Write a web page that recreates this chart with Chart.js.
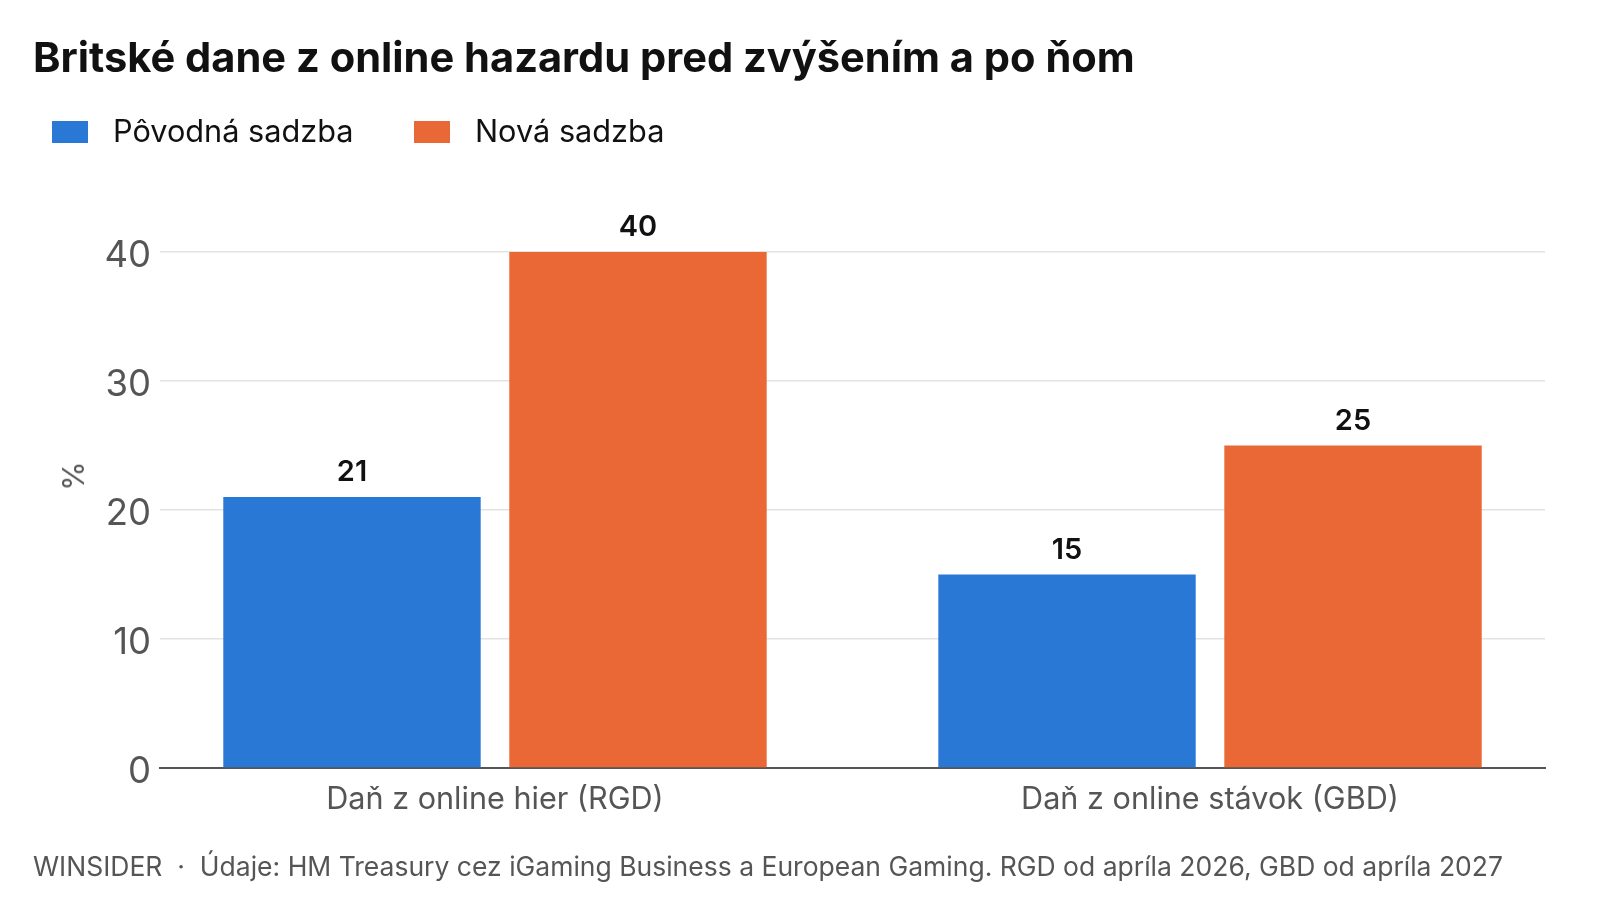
<!DOCTYPE html>
<html>
<head>
<meta charset="utf-8">
<script src="https://cdn.jsdelivr.net/npm/chart.js@4/dist/chart.umd.min.js"></script>
<style>
html,body{margin:0;padding:0;background:#fff;}
#wrap{position:relative;width:1600px;height:900px;font-family:Inter,"Noto Sans",sans-serif;overflow:hidden;}
#chart{position:absolute;left:0;top:0;}
.t{position:absolute;line-height:1;white-space:pre;}
#title{left:33px;top:37px;font-size:41.6px;font-weight:700;color:#111;}
.lg{font-size:30.7px;color:#111;top:115.6px;}
.box{position:absolute;top:121px;width:36px;height:22px;}
#ylab{left:73px;top:476px;font-size:30px;color:#555;transform:translate(-50%,-50%) rotate(-90deg);}
#foot{left:33px;top:853px;font-size:26.5px;color:#555;}
</style>
</head>
<body>
<div id="wrap">
  <canvas id="chart" width="1600" height="900"></canvas>
  <div id="title" class="t"></div>
  <div id="legend"></div>
  <div id="ylab" class="t"></div>
  <div id="foot" class="t"></div>
</div>
<script>
// ---- data ----
const titleText = 'Britské dane z online hazardu pred zvýšením a po ňom';
const categories = ['Daň z online hier (RGD)', 'Daň z online stávok (GBD)'];
const seriesNames = ['Pôvodná sadzba', 'Nová sadzba'];
const povodnaSadzba = [21, 15];
const novaSadzba = [40, 25];
const yTickValues = [0, 10, 20, 30, 40];
const yAxisLabel = '%';
const sourceText = 'WINSIDER  ·  Údaje: HM Treasury cez iGaming Business a European Gaming. RGD od apríla 2026, GBD od apríla 2027';
const seriesColors = ['#2A78D6', '#EA6835'];

// ---- texts ----
document.getElementById('title').textContent = titleText;
document.getElementById('ylab').textContent = yAxisLabel;
document.getElementById('foot').textContent = sourceText;
const legendPos = [{box:52, text:113}, {box:414, text:475}];
const legendEl = document.getElementById('legend');
seriesNames.forEach((n, i) => {
  const b = document.createElement('div');
  b.className = 'box';
  b.style.left = legendPos[i].box + 'px';
  b.style.background = seriesColors[i];
  legendEl.appendChild(b);
  const t = document.createElement('div');
  t.className = 't lg';
  t.style.left = legendPos[i].text + 'px';
  t.textContent = n;
  legendEl.appendChild(t);
});

const toPoints = arr => arr.map((v, i) => ({x: i, y: v}));

const valueLabels = {
  id: 'valueLabels',
  afterDatasetsDraw(chart) {
    const ctx = chart.ctx;
    ctx.save();
    ctx.font = '600 29px Inter, "Noto Sans", sans-serif';
    ctx.fillStyle = '#111';
    ctx.textAlign = 'center';
    ctx.textBaseline = 'alphabetic';
    chart.data.datasets.forEach((ds, di) => {
      const meta = chart.getDatasetMeta(di);
      meta.data.forEach((bar, i) => {
        ctx.fillText(String(ds.data[i].y), bar.x, bar.y - 16);
      });
    });
    ctx.restore();
  }
};

new Chart(document.getElementById('chart'), {
  type: 'bar',
  data: {
    datasets: [
      {label: seriesNames[0], data: toPoints(povodnaSadzba), backgroundColor: seriesColors[0], borderWidth: 0},
      {label: seriesNames[1], data: toPoints(novaSadzba), backgroundColor: seriesColors[1], borderWidth: 0}
    ]
  },
  options: {
    responsive: false,
    animation: false,
    categoryPercentage: 0.8,
    barPercentage: 0.9,
    layout: {padding: {top: 252, bottom: 72, right: 55, left: 0}},
    plugins: {legend: {display: false}, tooltip: {enabled: false}, title: {display: false}},
    scales: {
      x: {
        type: 'linear',
        offset: false,
        min: -0.4685,
        max: 1.4685,
        afterBuildTicks: s => { s.ticks = categories.map((_, i) => ({value: i})); },
        afterFit: s => { s.height = 60; },
        grid: {display: false, drawTicks: false, offset: false},
        border: {display: true, color: '#555', width: 2},
        ticks: {
          autoSkip: false, maxRotation: 0, padding: 13,
          color: '#555', font: {family: 'Inter', size: 30.6},
          callback: v => categories[Math.round(v)] ?? ''
        }
      },
      y: {
        min: 0, max: 40,
        afterBuildTicks: s => { s.ticks = yTickValues.map(v => ({value: v})); },
        afterFit: s => { s.width = 160; },
        grid: {color: '#e3e3df', lineWidth: 1.5, drawTicks: false},
        border: {display: false},
        ticks: {padding: 9, labelOffset: 4, color: '#555', font: {family: 'Inter', size: 36.5}}
      }
    }
  },
  plugins: [valueLabels]
});
</script>
</body>
</html>
